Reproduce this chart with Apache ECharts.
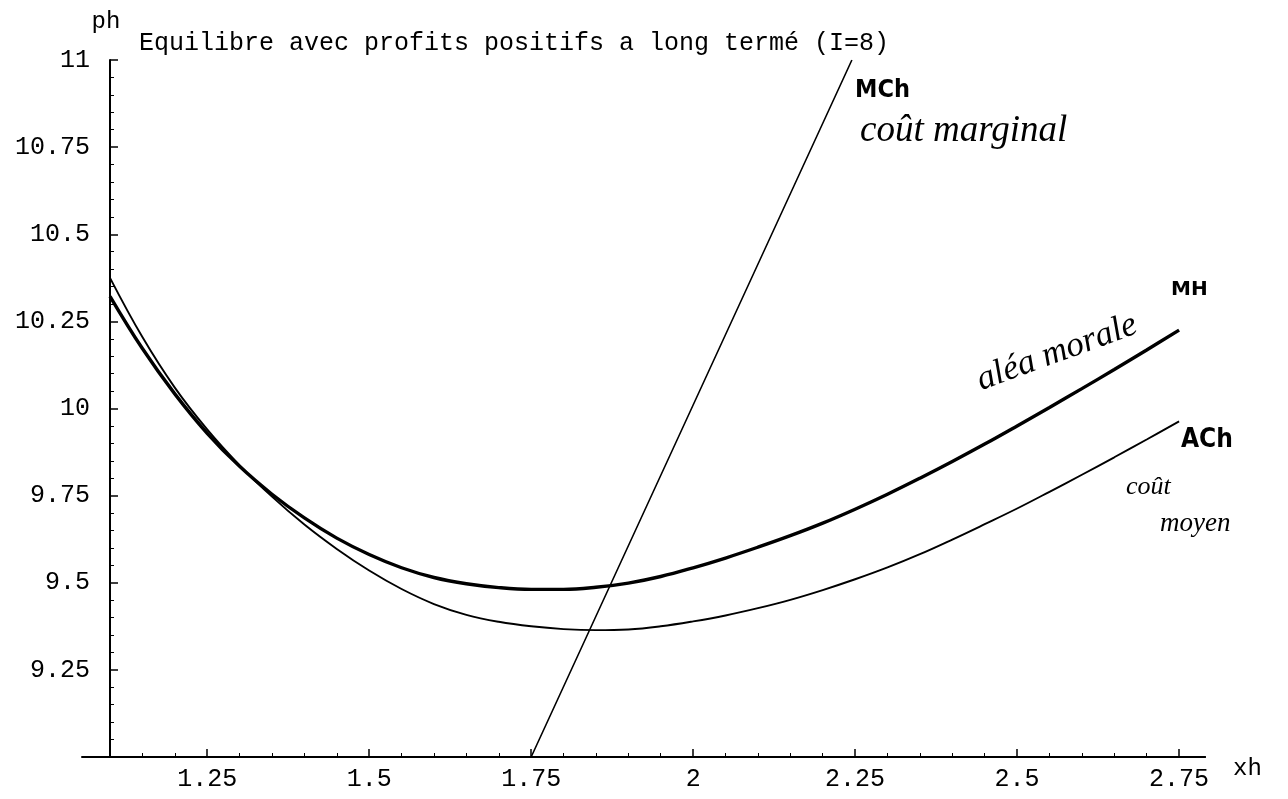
<!DOCTYPE html>
<html><head><meta charset="utf-8">
<script src="https://cdn.jsdelivr.net/npm/echarts@6/dist/echarts.min.js"></script>
<style>html,body{margin:0;padding:0;background:#fff}#c{width:1288px;height:799px}</style>
</head><body><div id="c"></div>
<script>
const chartTitle = 'Equilibre avec profits positifs a long termé (I=8)';
const xh  = [1.1, 1.15, 1.2, 1.25, 1.3, 1.35, 1.4, 1.45, 1.5, 1.55, 1.6, 1.65, 1.7, 1.75, 1.8, 1.85, 1.9, 1.95, 2.0, 2.05, 2.1, 2.15, 2.2, 2.25, 2.3, 2.35, 2.4, 2.45, 2.5, 2.55, 2.6, 2.65, 2.7, 2.75];
const mh  = [10.322, 10.172, 10.042, 9.929, 9.834, 9.754, 9.686, 9.628, 9.581, 9.543, 9.515, 9.497, 9.486, 9.481, 9.481, 9.487, 9.499, 9.518, 9.543, 9.571, 9.602, 9.635, 9.671, 9.711, 9.754, 9.8, 9.848, 9.898, 9.95, 10.003, 10.057, 10.112, 10.168, 10.225];
const ach = [10.375, 10.205, 10.06, 9.94, 9.837, 9.747, 9.667, 9.597, 9.535, 9.482, 9.439, 9.408, 9.388, 9.375, 9.367, 9.364, 9.366, 9.375, 9.389, 9.406, 9.427, 9.451, 9.479, 9.51, 9.544, 9.582, 9.624, 9.668, 9.713, 9.761, 9.81, 9.86, 9.911, 9.963];
const mcX = [1.75, 2.0, 2.245];
const mcY = [9.0, 10.01, 11.0];
const xTickValues = [1.25, 1.5, 1.75, 2, 2.25, 2.5, 2.75];
const yTickLabels = ['9.25', '9.5', '9.75', '10', '10.25', '10.5', '10.75', '11'];

const mono = 'Liberation Mono';
const hand = 'Liberation Serif';
const black = '#000';

function fmt(list) {
  return function (v) { const s = String(+(+v).toFixed(4)); return list.indexOf(s) >= 0 ? s : ''; };
}

const chart = echarts.init(document.getElementById('c'), null, {renderer: 'canvas'});
const option = {
  animation: false,
  backgroundColor: '#fff',
  title: {
    text: chartTitle, left: 134, top: 26,
    textStyle: {fontFamily: mono, fontSize: 25, fontWeight: 'normal', color: black}
  },
  grid: [
    {left: 110, right: 83, top: 60, bottom: 42},
    {left: 82, right: 83, top: 60, bottom: 42}
  ],
  xAxis: [
    {
      type: 'value', gridIndex: 0, min: 1.1, max: 2.79, minInterval: 0.25, maxInterval: 0.25,
      name: 'xh', nameLocation: 'end', nameGap: 28,
      nameTextStyle: {fontFamily: mono, fontSize: 24, color: black, verticalAlign: 'top'},
      axisLine: {show: true, onZero: false, lineStyle: {color: black, width: 2}},
      axisTick: {show: true, inside: true, length: 8, customValues: xTickValues, lineStyle: {color: black, width: 1.5}},
      minorTick: {show: true, splitNumber: 5, length: 4, lineStyle: {color: black, width: 1}},
      splitLine: {show: false}, minorSplitLine: {show: false},
      axisLabel: {customValues: xTickValues, margin: 10, fontFamily: mono, fontSize: 25, color: black}
    },
    {
      type: 'value', gridIndex: 1, min: 0, max: 1,
      axisLine: {show: true, onZero: false, lineStyle: {color: black, width: 2}},
      axisTick: {show: false}, axisLabel: {show: false}, splitLine: {show: false}
    }
  ],
  yAxis: [
    {
      type: 'value', gridIndex: 0, min: 9, max: 11, interval: 0.25,
      name: 'ph', nameLocation: 'end', nameGap: 26,
      nameTextStyle: {fontFamily: mono, fontSize: 24, color: black, padding: [0, 8, 0, 0]},
      axisLine: {show: true, onZero: false, lineStyle: {color: black, width: 2}},
      axisTick: {show: true, inside: true, length: 8, lineStyle: {color: black, width: 1.5}},
      minorTick: {show: true, splitNumber: 5, length: 4, lineStyle: {color: black, width: 1}},
      splitLine: {show: false}, minorSplitLine: {show: false},
      axisLabel: {showMinLabel: false, margin: 20, fontFamily: mono, fontSize: 25, color: black, formatter: fmt(yTickLabels)}
    },
    {
      type: 'value', gridIndex: 1, min: 0, max: 1, show: false
    }
  ],
  series: [
    {
      name: 'MH', type: 'line', xAxisIndex: 0, yAxisIndex: 0, showSymbol: false, smooth: 0.4,
      lineStyle: {color: black, width: 3.4},
      data: xh.map((x, i) => [x, mh[i]])
    },
    {
      name: 'ACh', type: 'line', xAxisIndex: 0, yAxisIndex: 0, showSymbol: false, smooth: 0.4,
      lineStyle: {color: black, width: 1.9},
      data: xh.map((x, i) => [x, ach[i]])
    },
    {
      name: 'MCh', type: 'line', xAxisIndex: 0, yAxisIndex: 0, showSymbol: false,
      lineStyle: {color: black, width: 1.6},
      data: mcX.map((x, i) => [x, mcY[i]])
    }
  ],
  graphic: [
    {type: 'text', left: 855, top: 78, style: {text: 'MCh', font: 'bold 25px "DejaVu Sans Condensed", sans-serif', fill: black}},
    {type: 'text', left: 860, top: 113, style: {text: 'coût marginal', font: 'italic 37px "' + hand + '"', fill: black}},
    {type: 'text', x: 984, y: 398, rotation: 0.35, style: {text: 'aléa morale', font: 'italic 35px "' + hand + '"', fill: black, textVerticalAlign: 'bottom'}},
    {type: 'text', left: 1171, top: 280, style: {text: 'MH', font: 'bold 20px "DejaVu Sans"', fill: black}},
    {type: 'text', left: 1181, top: 427, style: {text: 'ACh', font: 'bold 26px "DejaVu Sans Condensed", sans-serif', fill: black}},
    {type: 'text', left: 1126, top: 474, style: {text: 'coût', font: 'italic 26px "' + hand + '"', fill: black}},
    {type: 'text', left: 1160, top: 510, style: {text: 'moyen', font: 'italic 27px "' + hand + '"', fill: black}}
  ]
};
chart.setOption(option);
</script>
</body></html>
